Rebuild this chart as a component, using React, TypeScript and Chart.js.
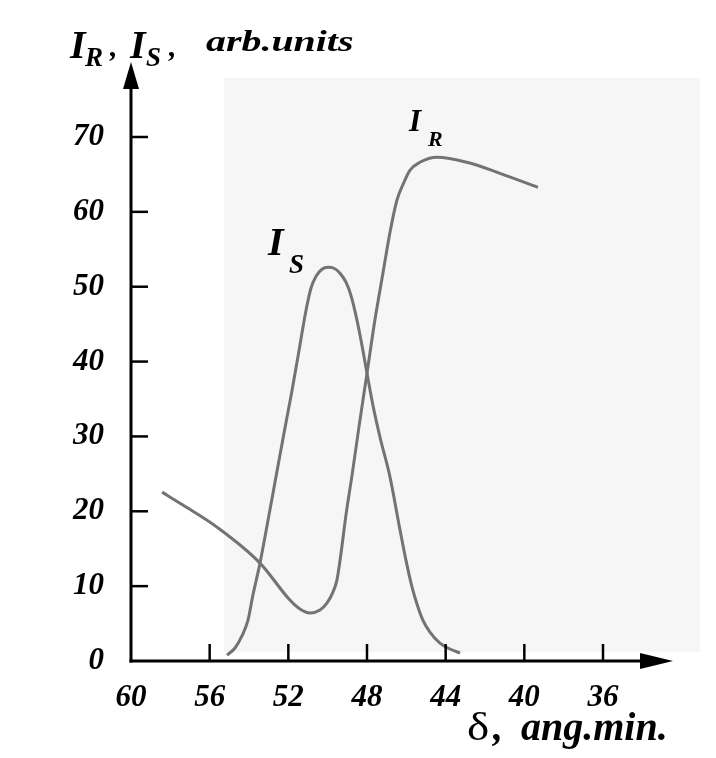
import React, { useEffect, useRef } from 'react';
import { Chart, registerables } from 'chart.js';

Chart.register(...registerables);

// delta, ang.min. (x axis, decreasing to the right)
const deltaTicks = [60, 56, 52, 48, 44, 40, 36];
const intensityTicks = [0, 10, 20, 30, 40, 50, 60, 70];

// I_R curve
const irDelta = [58.42, 57.36, 55.63, 53.44, 51.92, 51.41, 50.90, 50.39, 50.04, 49.73, 49.53, 49.32, 49.07, 48.76, 48.41, 48.00, 47.60, 47.19, 46.83, 46.48, 46.12, 45.82, 45.31, 44.44, 42.92, 41.24, 39.31];
const irValues = [22.56, 20.83, 17.89, 13.08, 8.14, 6.94, 6.41, 6.81, 7.74, 9.21, 10.81, 14.42, 19.49, 24.83, 31.24, 38.45, 45.53, 51.80, 57.28, 61.55, 63.95, 65.55, 66.62, 67.29, 66.62, 65.15, 63.28];

// I_S curve
const isDelta = [55.12, 54.71, 54.36, 54.05, 53.80, 53.44, 53.03, 52.63, 52.22, 51.81, 51.41, 51.10, 50.85, 50.59, 50.29, 49.98, 49.68, 49.37, 49.07, 48.82, 48.51, 48.21, 48.00, 47.70, 47.34, 46.83, 46.32, 46.02, 45.71, 45.41, 45.16, 44.80, 44.29, 43.78, 43.27];
const isValues = [0.80, 1.74, 3.34, 5.47, 8.81, 13.08, 18.83, 24.57, 30.44, 36.18, 42.19, 46.86, 49.80, 51.40, 52.34, 52.60, 52.47, 51.80, 50.60, 48.87, 45.53, 41.52, 38.45, 34.18, 29.91, 24.57, 17.49, 13.48, 9.88, 7.21, 5.47, 3.87, 2.40, 1.60, 1.07];

const SERIF = '"Liberation Serif"';
const CURVE_COLOR = '#737373';

function txt(
  ctx: CanvasRenderingContext2D,
  s: string,
  x: number,
  baseline: number,
  size: number,
  style: string,
  sx = 1
): number {
  ctx.save();
  ctx.font = `${style} ${size}px ${SERIF}`;
  ctx.textAlign = 'left';
  ctx.textBaseline = 'alphabetic';
  ctx.fillStyle = '#000';
  ctx.translate(x, baseline);
  ctx.scale(sx, 1);
  ctx.fillText(s, 0, 0);
  const w = ctx.measureText(s).width * sx;
  ctx.restore();
  return x + w;
}

const decorPlugin = {
  id: 'decor',
  beforeDraw(chart: any) {
    const ctx: CanvasRenderingContext2D = chart.ctx;
    ctx.save();
    ctx.fillStyle = '#ffffff';
    ctx.fillRect(0, 0, chart.width, chart.height);
    // faint scanned-paper patch
    ctx.fillStyle = '#f6f6f6';
    ctx.fillRect(224, 78, 476, 574);
    ctx.restore();
  },
  afterDraw(chart: any) {
    const ctx: CanvasRenderingContext2D = chart.ctx;
    const xs = chart.scales.x;
    const ys = chart.scales.y;
    const x0 = xs.getPixelForValue(deltaTicks[0]);
    const y0 = ys.getPixelForValue(0);
    ctx.save();
    ctx.strokeStyle = '#000';
    ctx.fillStyle = '#000';
    ctx.lineWidth = 3;
    ctx.lineCap = 'butt';
    // y axis
    ctx.beginPath();
    ctx.moveTo(x0, y0 + 1.5);
    ctx.lineTo(x0, 86);
    ctx.stroke();
    ctx.beginPath();
    ctx.moveTo(x0, 62);
    ctx.lineTo(x0 - 8, 89);
    ctx.lineTo(x0 + 8, 89);
    ctx.closePath();
    ctx.fill();
    // x axis
    ctx.beginPath();
    ctx.moveTo(x0 - 1.5, y0);
    ctx.lineTo(644, y0);
    ctx.stroke();
    ctx.beginPath();
    ctx.moveTo(673, y0);
    ctx.lineTo(640, y0 - 8);
    ctx.lineTo(640, y0 + 8);
    ctx.closePath();
    ctx.fill();
    // ticks
    ctx.lineWidth = 2.5;
    intensityTicks.forEach((v) => {
      if (v === 0) return;
      const py = ys.getPixelForValue(v);
      ctx.beginPath();
      ctx.moveTo(x0, py);
      ctx.lineTo(x0 + 17, py);
      ctx.stroke();
    });
    deltaTicks.forEach((v, i) => {
      if (i === 0) return;
      const px = xs.getPixelForValue(v);
      ctx.beginPath();
      ctx.moveTo(px, y0);
      ctx.lineTo(px, y0 - 17);
      ctx.stroke();
    });
    ctx.restore();

    // y-axis title: I_R ,I_S, arb.units
    txt(ctx, 'I', 70, 58, 40, 'italic bold');
    txt(ctx, 'R', 85, 66, 27, 'italic bold');
    txt(ctx, ',', 110, 56, 30, 'italic bold');
    txt(ctx, 'I', 130, 58, 40, 'italic bold');
    txt(ctx, 'S', 146, 66, 27, 'italic bold');
    txt(ctx, ',', 169, 56, 30, 'italic bold');
    txt(ctx, 'arb.units', 206, 51, 30, 'italic bold', 1.33);

    // x-axis title: δ, ang.min.
    txt(ctx, 'δ', 467, 740, 40, 'normal', 1.18);
    txt(ctx, ',', 493, 740, 40, 'italic bold');
    txt(ctx, 'ang.min.', 521, 740, 40, 'italic bold');

    // curve labels
    txt(ctx, 'I', 409, 131, 31, 'italic bold');
    txt(ctx, 'R', 428, 146, 22, 'italic bold');
    txt(ctx, 'I', 268, 255, 40, 'italic bold');
    txt(ctx, 'S', 289, 273, 27, 'italic bold');
  },
};

export default function App() {
  const ref = useRef<HTMLCanvasElement | null>(null);
  useEffect(() => {
    let chart: Chart | null = null;
    let cancelled = false;
    const build = () => {
      if (cancelled || !ref.current) return;
      chart = new Chart(ref.current, {
        type: 'scatter',
        data: {
          datasets: [
            {
              label: 'I_R',
              data: irDelta.map((x, i) => ({ x, y: irValues[i] })),
              showLine: true,
              borderColor: CURVE_COLOR,
              borderWidth: 3,
              pointRadius: 0,
              cubicInterpolationMode: 'monotone',
              fill: false,
            },
            {
              label: 'I_S',
              data: isDelta.map((x, i) => ({ x, y: isValues[i] })),
              showLine: true,
              borderColor: CURVE_COLOR,
              borderWidth: 3,
              pointRadius: 0,
              cubicInterpolationMode: 'monotone',
              fill: false,
            },
          ],
        },
        options: {
          animation: false,
          responsive: false,
          maintainAspectRatio: false,
          layout: { padding: { top: 137, right: 113, left: 0, bottom: 0 } },
          plugins: {
            legend: { display: false },
            tooltip: { enabled: false },
            title: { display: false },
          },
          scales: {
            x: {
              type: 'linear',
              min: 36,
              max: 60,
              reverse: true,
              afterBuildTicks: (s: any) => {
                s.ticks = deltaTicks.map((v) => ({ value: v }));
              },
              afterFit: (s: any) => {
                s.height = 97;
              },
              grid: { display: false, drawTicks: false },
              border: { display: false },
              ticks: {
                padding: 18,
                color: '#000',
                font: { family: SERIF, size: 31, style: 'italic', weight: 'bold' },
                maxRotation: 0,
                autoSkip: false,
              },
            },
            y: {
              type: 'linear',
              min: 0,
              max: 70,
              afterBuildTicks: (s: any) => {
                s.ticks = intensityTicks.map((v) => ({ value: v }));
              },
              afterFit: (s: any) => {
                s.width = 131;
              },
              grid: { display: false, drawTicks: false },
              border: { display: false },
              ticks: {
                padding: 27,
                color: '#000',
                font: { family: SERIF, size: 31, style: 'italic', weight: 'bold' },
                autoSkip: false,
              },
            },
          },
        },
        plugins: [decorPlugin],
      } as any);
    };
    const fonts: any = (document as any).fonts;
    if (fonts && fonts.load) {
      Promise.all([
        fonts.load('italic bold 30px "Liberation Serif"'),
        fonts.load('30px "Liberation Serif"'),
      ])
        .catch(() => null)
        .then(build);
    } else {
      build();
    }
    return () => {
      cancelled = true;
      if (chart) chart.destroy();
    };
  }, []);
  return (
    <div style={{ position: 'fixed', left: 0, top: 0, width: 716, height: 758, background: '#fff' }}>
      <canvas ref={ref} width={716} height={758} style={{ display: 'block', width: 716, height: 758 }} />
    </div>
  );
}
